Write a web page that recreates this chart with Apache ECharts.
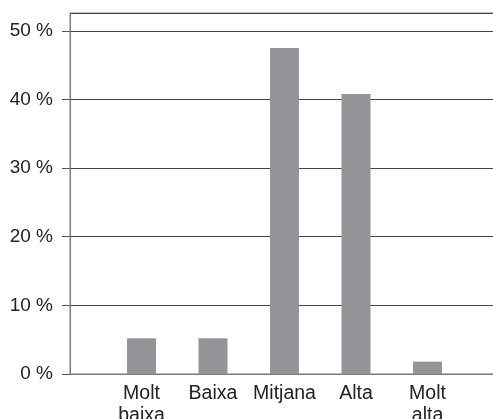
<!DOCTYPE html>
<html>
<head>
<meta charset="utf-8">
<script src="https://cdn.jsdelivr.net/npm/echarts@6/dist/echarts.min.js"></script>
<style>html,body{margin:0;padding:0;background:#fff}#c{width:493px;height:419px}</style>
</head>
<body>
<div id="c"></div>
<script>
var categories = ['', 'Molt\nbaixa', 'Baixa', 'Mitjana', 'Alta', 'Molt\nalta', ''];
var values = [null, 5.2, 5.2, 47.5, 40.8, 1.8, null];
var yTicks = [0, 10, 20, 30, 40, 50];

var chart = echarts.init(document.getElementById('c'), null, {renderer: 'canvas'});
chart.setOption({
  animation: false,
  grid: {left: 70, right: -6, top: 13, bottom: 45, outerBoundsMode: 'none', containLabel: false, show: true, borderColor: '#7a7a7a', borderWidth: 1, backgroundColor: 'transparent'},
  xAxis: {
    type: 'category',
    data: categories,
    boundaryGap: false,
    axisLine: {show: true, lineStyle: {color: '#7a7a7a', width: 1}},
    axisTick: {show: false},
    axisLabel: {color: '#222', fontSize: 19.5, fontFamily: 'Liberation Sans, Arial, sans-serif', margin: 9, lineHeight: 22, interval: 0}
  },
  yAxis: {
    type: 'value',
    min: 0,
    max: 52.6,
    interval: 10,
    axisLine: {show: true, lineStyle: {color: '#7a7a7a', width: 1}},
    axisTick: {show: true, inside: false, length: 8, lineStyle: {color: '#555'}},
    splitLine: {show: true, lineStyle: {color: '#444', width: 1}},
    axisLabel: {
      color: '#222', fontSize: 19, fontFamily: 'Liberation Sans, Arial, sans-serif', margin: 17,
      showMaxLabel: false,
      formatter: function (v) { return yTicks.indexOf(v) >= 0 ? v + ' %' : ''; }
    }
  },
  series: [{
    type: 'bar',
    data: values,
    barWidth: 29,
    itemStyle: {color: '#939598'}
  }]
});
</script>
</body>
</html>
